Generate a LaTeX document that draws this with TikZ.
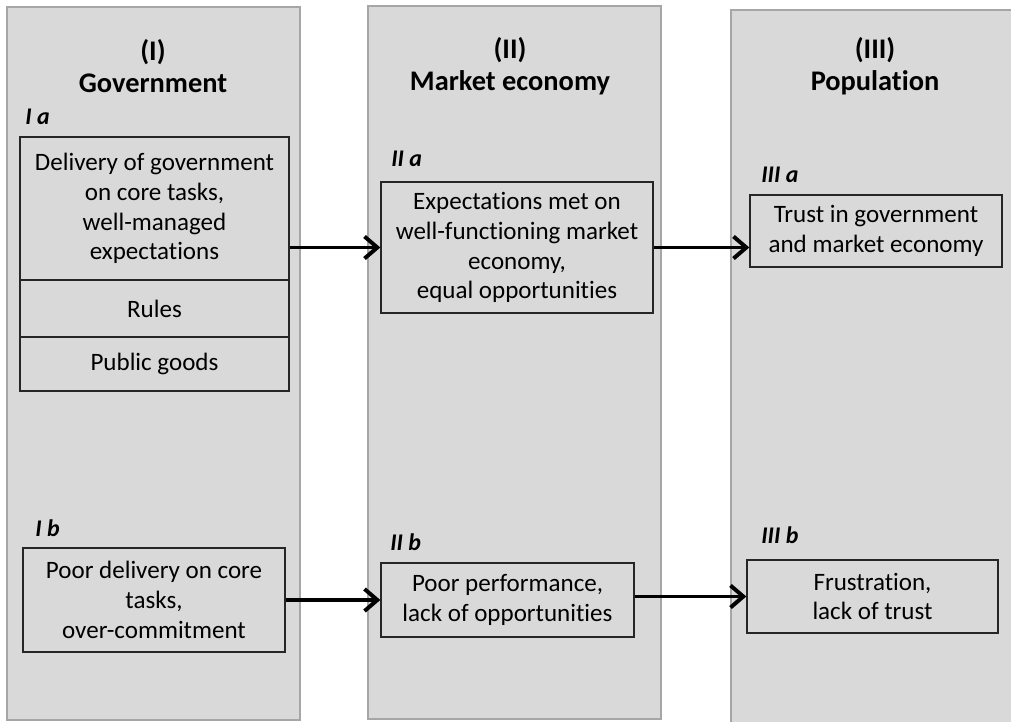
\documentclass[tikz,border=0pt]{standalone}
\usepackage{fontspec}
\setmainfont{Carlito}[Ligatures=NoCommon]
\usetikzlibrary{arrows.meta}
\definecolor{panelfill}{HTML}{D9D9D9}
\definecolor{panelline}{HTML}{A6A6A6}
\tikzset{
  panel/.style={fill=panelfill, draw=panelline, line width=1.8pt},
  heading/.style={font=\fontsize{20.2}{22.8}\selectfont\bfseries, align=center, inner sep=0pt},
  tag/.style={anchor=west, font=\fontsize{17}{19}\selectfont\bfseries\itshape, inner sep=0pt},
  box/.style={draw=black!85, line width=0.9pt, inner sep=0pt, align=center,
    font=\fontsize{17.8}{21.2}\selectfont},
  flow/.style={-{Straight Barb[length=3.2mm, width=5.5mm]}, line width=2.8pt},
}

\begin{document}
\begin{tikzpicture}[x=0.025cm, y=-0.025cm]
  \clip (0,0) rectangle (1011,722);

  % ---------------- three columns ----------------
  \foreach \l/\t/\r/\b in {7/7/300/720, 368/6/661/719, 731/10/1040/745} {
    \draw[panel] (\l,\t) rectangle (\r,\b);
  }
  \node[heading] (hgov) at (153,66) {(I)\\Government};
  \node[heading] (hmkt) at (510,66) {(II)\\Market economy};
  \node[heading] (hpop) at (875,66) {(III)\\Population};

  % ---------------- upper row (a) ----------------
  \node[tag] (tia) at (25,117) {I a};
  \node[box, minimum width=6.725cm, minimum height=3.575cm] (ia) at (154.5,208.5)
    {Delivery of government\\on core tasks,\\well-managed\\expectations};
  \node[box, minimum width=6.725cm, minimum height=1.425cm] (rules) at (154.5,308.5) {Rules};
  \node[box, minimum width=6.725cm, minimum height=1.35cm] (goods) at (154.5,364) {Public goods};

  \node[tag] (tiia) at (391,159) {II a};
  \node[box, minimum width=6.8cm, minimum height=3.275cm] (iia) at (517,247.5)
    {Expectations met on\\well-functioning market\\economy,\\equal opportunities};

  \node[tag] (tiiia) at (761,175) {III a};
  \node[box, minimum width=6.3cm, minimum height=1.8cm] (iiia) at (876,231)
    {Trust in government\\and market economy};

  \draw[flow] (ia.east |- iia.west) -- (iia.west);
  \draw[flow] (iia.east) -- (iiia.west |- iia.east);

  % ---------------- lower row (b) ----------------
  \node[tag] (tib) at (35,528) {I b};
  \node[box, minimum width=6.55cm, minimum height=2.6cm] (ib) at (154,600)
    {Poor delivery on core\\tasks,\\over-commitment};

  \node[tag] (tiib) at (390,542) {II b};
  \node[box, minimum width=6.325cm, minimum height=1.85cm] (iib) at (507.5,600)
    {Poor performance,\\lack of opportunities};

  \node[tag] (tiiib) at (761,535) {III b};
  \node[box, minimum width=6.275cm, minimum height=1.825cm] (iiib) at (872.5,596.5)
    {Frustration,\\lack of trust};

  \draw[flow] (ib) -- (iib);
  \draw[flow] (iib.east |- iiib.west) -- (iiib.west);
\end{tikzpicture}
\end{document}
